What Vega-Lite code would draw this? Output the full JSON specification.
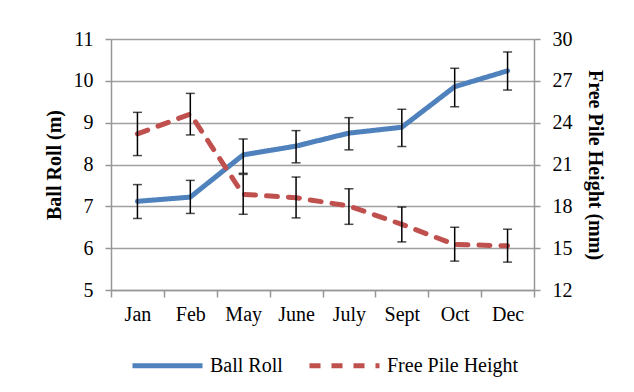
{
  "$schema": "https://vega.github.io/schema/vega-lite/v6.json",
  "autosize": {"type": "none"},
  "padding": {"left": 111, "top": 39, "right": 100, "bottom": 102},
  "width": 423,
  "height": 251,
  "background": "white",
  "datasets": {
    "monthly": [
      {"month": "Jan", "series": "Ball Roll", "value": 7.12, "lo": 6.71, "hi": 7.52},
      {"month": "Feb", "series": "Ball Roll", "value": 7.22, "lo": 6.83, "hi": 7.62},
      {"month": "May", "series": "Ball Roll", "value": 8.23, "lo": 7.79, "hi": 8.61},
      {"month": "June", "series": "Ball Roll", "value": 8.44, "lo": 8.04, "hi": 8.81},
      {"month": "July", "series": "Ball Roll", "value": 8.75, "lo": 8.35, "hi": 9.12},
      {"month": "Sept", "series": "Ball Roll", "value": 8.89, "lo": 8.43, "hi": 9.32},
      {"month": "Oct", "series": "Ball Roll", "value": 9.86, "lo": 9.38, "hi": 10.30},
      {"month": "Dec", "series": "Ball Roll", "value": 10.24, "lo": 9.78, "hi": 10.69},
      {"month": "Jan", "series": "Free Pile Height", "value": 23.19, "lo": 21.64, "hi": 24.74},
      {"month": "Feb", "series": "Free Pile Height", "value": 24.62, "lo": 23.12, "hi": 26.10},
      {"month": "May", "series": "Free Pile Height", "value": 18.86, "lo": 17.43, "hi": 20.29},
      {"month": "June", "series": "Free Pile Height", "value": 18.62, "lo": 17.17, "hi": 20.10},
      {"month": "July", "series": "Free Pile Height", "value": 18.02, "lo": 16.71, "hi": 19.26},
      {"month": "Sept", "series": "Free Pile Height", "value": 16.71, "lo": 15.45, "hi": 17.95},
      {"month": "Oct", "series": "Free Pile Height", "value": 15.26, "lo": 14.07, "hi": 16.50},
      {"month": "Dec", "series": "Free Pile Height", "value": 15.17, "lo": 14.00, "hi": 16.36}
    ]
  },
  "data": {"name": "monthly"},
  "encoding": {
    "x": {
      "field": "month",
      "type": "nominal",
      "sort": ["Jan", "Feb", "May", "June", "July", "Sept", "Oct", "Dec"],
      "scale": {"paddingInner": 0, "paddingOuter": 0},
      "axis": {"title": null, "labelAngle": 0, "tickBand": "extent", "tickSize": 7, "labelPadding": 7, "grid": false}
    }
  },
  "layer": [
    {
      "transform": [{"filter": "datum.series === 'Ball Roll'"}],
      "layer": [
        {
          "mark": {"type": "line", "strokeWidth": 5, "strokeCap": "round", "strokeJoin": "round"},
          "encoding": {
            "y": {
              "field": "value", "type": "quantitative",
              "scale": {"domain": [5, 11], "nice": false, "zero": false},
              "axis": {"title": "Ball Roll (m)", "orient": "left", "values": [5, 6, 7, 8, 9, 10, 11], "grid": true, "titlePadding": 9}
            },
            "color": {
              "field": "series", "type": "nominal",
              "scale": {"domain": ["Ball Roll", "Free Pile Height"], "range": ["#4F81BD", "#C0504D"]},
              "legend": {"title": null}
            },
            "strokeDash": {
              "field": "series", "type": "nominal",
              "scale": {"domain": ["Ball Roll", "Free Pile Height"], "range": [[1, 0], [11, 11]]},
              "legend": {"title": null}
            }
          }
        },
        {
          "mark": {"type": "errorbar", "color": "black", "thickness": 1.5, "ticks": {"size": 9}},
          "encoding": {
            "y": {
              "field": "lo", "type": "quantitative",
              "scale": {"domain": [5, 11], "nice": false, "zero": false},
              "axis": {"title": "Ball Roll (m)", "orient": "left", "values": [5, 6, 7, 8, 9, 10, 11], "grid": true, "titlePadding": 9}
            },
            "y2": {"field": "hi"}
          }
        }
      ]
    },
    {
      "transform": [{"filter": "datum.series === 'Free Pile Height'"}],
      "layer": [
        {
          "mark": {"type": "line", "strokeWidth": 5, "strokeCap": "round", "strokeJoin": "round"},
          "encoding": {
            "y": {
              "field": "value", "type": "quantitative",
              "scale": {"domain": [12, 30], "nice": false, "zero": false},
              "axis": {"title": "Free Pile Height (mm)", "orient": "right", "values": [12, 15, 18, 21, 24, 27, 30], "grid": false, "titlePadding": 12}
            },
            "color": {
              "field": "series", "type": "nominal",
              "scale": {"domain": ["Ball Roll", "Free Pile Height"], "range": ["#4F81BD", "#C0504D"]},
              "legend": {"title": null}
            },
            "strokeDash": {
              "field": "series", "type": "nominal",
              "scale": {"domain": ["Ball Roll", "Free Pile Height"], "range": [[1, 0], [11, 11]]},
              "legend": {"title": null}
            }
          }
        },
        {
          "mark": {"type": "errorbar", "color": "black", "thickness": 1.5, "ticks": {"size": 9}},
          "encoding": {
            "y": {
              "field": "lo", "type": "quantitative",
              "scale": {"domain": [12, 30], "nice": false, "zero": false},
              "axis": {"title": "Free Pile Height (mm)", "orient": "right", "values": [12, 15, 18, 21, 24, 27, 30], "grid": false, "titlePadding": 12}
            },
            "y2": {"field": "hi"}
          }
        }
      ]
    }
  ],
  "resolve": {"scale": {"y": "independent"}},
  "config": {
    "view": {"stroke": null},
    "font": "Liberation Serif",
    "axis": {
      "domainColor": "#969696",
      "domainWidth": 1.5,
      "tickColor": "#969696",
      "tickWidth": 1.5,
      "tickSize": 6,
      "gridColor": "#a0a0a0",
      "gridWidth": 1.5,
      "labelFont": "Liberation Serif",
      "labelFontSize": 20,
      "labelColor": "black",
      "labelPadding": 12,
      "titleFont": "Liberation Serif",
      "titleFontSize": 20,
      "titleFontWeight": "bold",
      "titleColor": "black"
    },
    "legend": {
      "orient": "none",
      "direction": "horizontal",
      "legendX": 19,
      "legendY": 289,
      "padding": 0,
      "symbolType": "stroke",
      "symbolSize": 4900,
      "symbolStrokeWidth": 5,
      "labelFont": "Liberation Serif",
      "labelFontSize": 20,
      "labelColor": "black",
      "labelOffset": 5,
      "columnPadding": 16,
      "labelLimit": 300
    }
  }
}
